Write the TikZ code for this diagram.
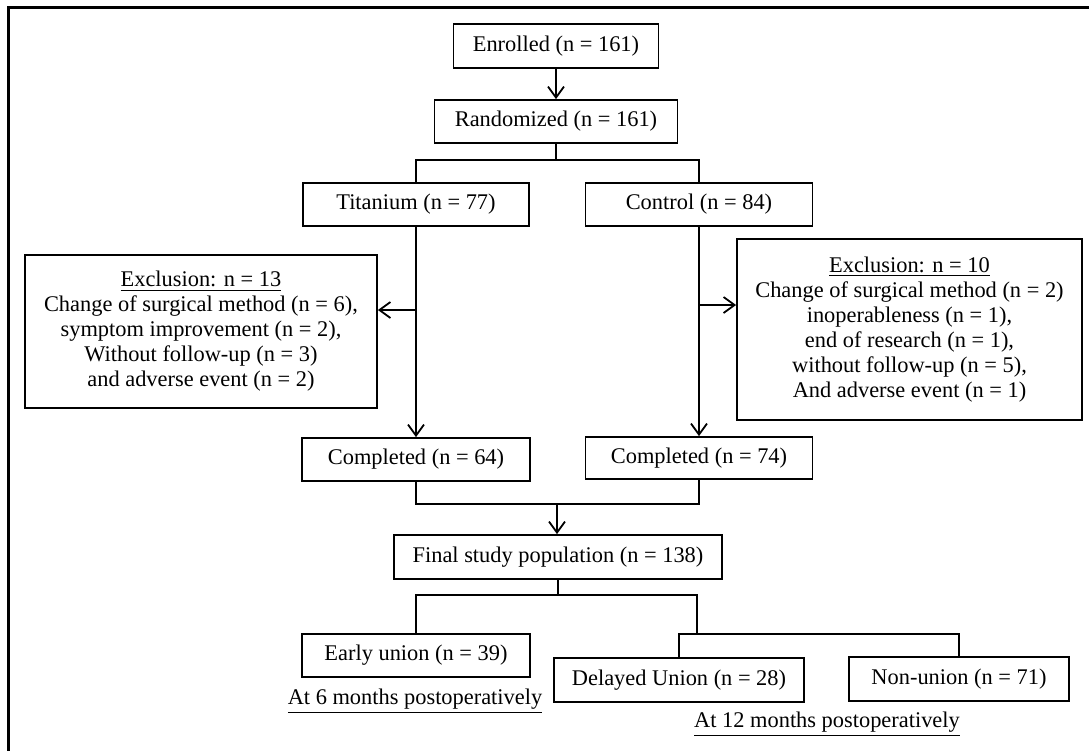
\documentclass[tikz,border=0pt]{standalone}
\usepackage{fontspec}
\setmainfont{Liberation Serif}
\usetikzlibrary{arrows.meta,calc}
\begin{document}
\begin{tikzpicture}[x=0.5pt,y=-0.5pt,
  box/.style={draw,line width=0.9pt,inner sep=0pt,align=center,font=\fontsize{11.2}{12.5}\selectfont},
  lbl/.style={inner sep=0pt,align=center,font=\fontsize{11.2}{12.5}\selectfont},
  conn/.style={line width=0.9pt},
  arr/.style={line width=0.9pt,-{Straight Barb[length=5.5pt,width=8pt,line width=0.9pt]}}]
\useasboundingbox (0,0) rectangle (1089,751);
\draw[line width=1.5pt] (8,751) -- (8,7.5) -- (1089,7.5);

\node[box,minimum width=102.5pt,minimum height=22pt] (enr) at (556,46) {Enrolled (n = 161)};
\node[box,minimum width=121.5pt,minimum height=21.5pt] (rand) at (556,121.5) {Randomized (n = 161)};
\node[box,minimum width=113pt,minimum height=21.5pt] (tit) at (416,204.5) {Titanium (n = 77)};
\node[box,minimum width=113.5pt,minimum height=21.5pt] (ctl) at (699,204.5) {Control (n = 84)};
\node[box,minimum width=176pt,minimum height=76.5pt] (exL) at (201,331.5) {\underline{Exclusion: n = 13}\\Change of surgical method (n = 6),\\symptom improvement (n = 2),\\Without follow-up (n = 3)\\and adverse event (n = 2)};
\node[box,minimum width=172.5pt,minimum height=90.5pt] (exR) at (909.5,329.5) {\underline{Exclusion: n = 10}\\Change of surgical method (n = 2)\\inoperableness (n = 1),\\end of research (n = 1),\\without follow-up (n = 5),\\And adverse event (n = 1)};
\node[box,minimum width=114pt,minimum height=21.5pt] (c64) at (416,459.5) {Completed (n = 64)};
\node[box,minimum width=113.5pt,minimum height=21pt] (c74) at (699,458) {Completed (n = 74)};
\node[box,minimum width=164pt,minimum height=22pt] (fin) at (558,557) {Final study population (n = 138)};
\node[box,minimum width=114pt,minimum height=21.5pt] (early) at (416,655.5) {Early union (n = 39)};
\node[box,minimum width=125pt,minimum height=22pt] (del) at (679,680) {Delayed Union (n = 28)};
\node[box,minimum width=110pt,minimum height=22pt] (non) at (959,679) {Non-union (n = 71)};
\node[lbl] (t6) at (415,701) {\underline{At 6 months postoperatively}};
\node[lbl] (t12) at (827,724) {\underline{At 12 months postoperatively}};

\coordinate (b1) at (556,160);
\coordinate (jl) at (416,310);
\coordinate (jr) at (699,305);
\coordinate (m) at (557,504);
\coordinate (b3) at (558,595);
\coordinate (b4) at (697,595);
\coordinate (b5) at (697,634);

\draw[arr] (enr) -- (rand);
\draw[conn] (rand) -- (b1);
\draw[conn] (tit.north) |- (b1) -| (ctl.north);
\draw[arr] (tit) -- (c64);
\draw[arr] (ctl) -- (c74);
\draw[arr] (jl) -- (jl -| exL.east);
\draw[arr] (jr) -- (jr -| exR.west);
\draw[conn] (c64.south) |- (m) -| (c74.south);
\draw[arr] (m) -- (fin.north -| m);
\draw[conn] (fin.south -| b3) -- (b3);
\draw[conn] (early.north) |- (b3) -| (b4) -- (b5);
\draw[conn] (del.north) |- (b5) -| (non.north);
\end{tikzpicture}
\end{document}
